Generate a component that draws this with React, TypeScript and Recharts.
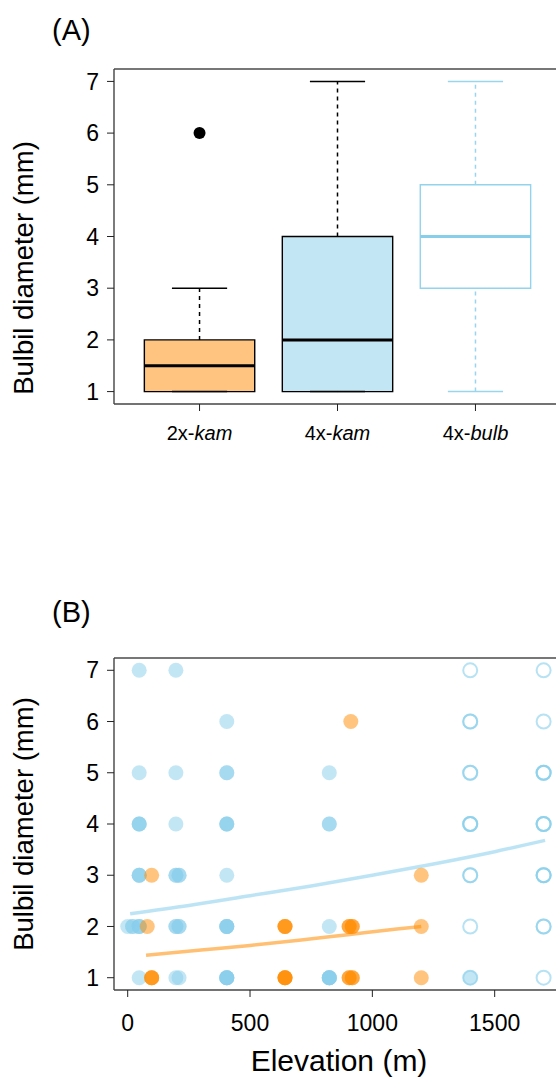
import React from 'react';
import { ComposedChart, XAxis, YAxis, Scatter, Line, ReferenceArea, ReferenceLine } from 'recharts';

const FONT = '"Liberation Sans", Arial, Helvetica, sans-serif';

// ---- Panel A: box summaries per cytotype ----
const groupPos = [1, 2, 3];
const groupPrefix = ['2x-', '4x-', '4x-'];
const groupItalic = ['kam', 'kam', 'bulb'];
const whiskerLow = [1, 1, 1];
const boxLow = [1, 1, 3];
const medians = [1.5, 2, 4];
const boxHigh = [2, 4, 5];
const whiskerHigh = [3, 7, 7];
const outlierPos = [1];
const outlierValue = [6];

const diameterTicks = [1, 2, 3, 4, 5, 6, 7];
const elevationTicks = [0, 500, 1000, 1500];

// ---- Panel B: points (elevation m, bulbil diameter mm) ----
const kam2Elevation = [
  912,
  98, 1200,
  80, 643, 643, 643, 905, 905, 918, 918, 1200,
  98, 98, 98, 643, 643, 643, 643, 905, 905, 918, 918, 1200,
];
const kam2Diameter = [
  6,
  3, 3,
  2, 2, 2, 2, 2, 2, 2, 2, 2,
  1, 1, 1, 1, 1, 1, 1, 1, 1, 1, 1, 1,
];

const kam4Elevation = [
  47, 197,
  405,
  47, 197, 405, 405, 824,
  47, 47, 47, 197, 405, 405, 405, 824, 824,
  47, 47, 47, 197, 197, 210, 210, 405,
  0, 20, 20, 47, 47, 47, 197, 197, 210, 210, 405, 405, 405, 405, 824,
  47, 197, 210, 405, 405, 405, 405, 405, 824, 824, 824, 824, 824, 1400,
];
const kam4Diameter = [
  7, 7,
  6,
  5, 5, 5, 5, 5,
  4, 4, 4, 4, 4, 4, 4, 4, 4,
  3, 3, 3, 3, 3, 3, 3, 3,
  2, 2, 2, 2, 2, 2, 2, 2, 2, 2, 2, 2, 2, 2, 2,
  1, 1, 1, 1, 1, 1, 1, 1, 1, 1, 1, 1, 1, 1,
];

const bulbElevation = [
  1400, 1700,
  1400, 1400, 1700,
  1400, 1400, 1700, 1700, 1700,
  1400, 1400, 1400, 1700, 1700, 1700,
  1400, 1400, 1700, 1700, 1700,
  1400, 1700, 1700,
  1400, 1700,
];
const bulbDiameter = [
  7, 7,
  6, 6, 6,
  5, 5, 5, 5, 5,
  4, 4, 4, 4, 4, 4,
  3, 3, 3, 3, 3,
  2, 2, 2,
  1, 1,
];

// fitted curves
const kam4FitElevation = [10, 250, 500, 750, 1000, 1250, 1500, 1706];
const kam4FitDiameter = [2.25, 2.41, 2.6, 2.79, 3.0, 3.22, 3.46, 3.68];
const kam2FitElevation = [75, 300, 500, 700, 900, 1100, 1200];
const kam2FitDiameter = [1.44, 1.54, 1.63, 1.73, 1.84, 1.95, 2.0];

const SKY = '#87CEEB';
const ORANGE = '#FF8C00';
const boxFill = ['#FFC580', '#C3E6F5', '#FFFFFF'];
const boxStroke = ['#000', '#000', '#94D3EC'];
const whiskerStroke = ['#000', '#000', '#9AD5EE'];
const medianStroke = ['#000', '#000', SKY];

const zip = (xs: number[], ys: number[]) => xs.map((x, i) => ({ x, y: ys[i] }));

const outliers = zip(outlierPos, outlierValue);
const kam2Points = zip(kam2Elevation, kam2Diameter);
const kam4Points = zip(kam4Elevation, kam4Diameter);
const bulbPoints = zip(bulbElevation, bulbDiameter);
const kam4Fit = zip(kam4FitElevation, kam4FitDiameter);
const kam2Fit = zip(kam2FitElevation, kam2FitDiameter);

const Y_DOMAIN: [number, number] = [0.76, 7.24];
const TICK_FONT = 23;

function GroupTick(props: any) {
  const { x, y, payload } = props;
  const i = groupPos.indexOf(payload.value);
  return (
    <text x={x} y={y} dy={27} textAnchor="middle" fontSize={20} fontFamily={FONT} fill="#000">
      <tspan>{groupPrefix[i]}</tspan>
      <tspan fontStyle="italic">{groupItalic[i]}</tspan>
    </text>
  );
}

const filledDot = (color: string) => (p: any) => (
  <circle cx={p.cx} cy={p.cy} r={7.5} fill={color} fillOpacity={0.5} />
);
const openDot = (p: any) => (
  <circle cx={p.cx} cy={p.cy} r={7} fill="none" stroke={SKY} strokeOpacity={0.6} strokeWidth={2} />
);

function BoxPanel() {
  const parts: React.ReactNode[] = [];
  groupPos.forEach((p, i) => {
    parts.push(
      <ReferenceLine key={`wu${i}`} segment={[{ x: p, y: boxHigh[i] }, { x: p, y: whiskerHigh[i] }]}
        stroke={whiskerStroke[i]} strokeDasharray="4 4" strokeWidth={1.5} />,
      <ReferenceLine key={`wl${i}`} segment={[{ x: p, y: whiskerLow[i] }, { x: p, y: boxLow[i] }]}
        stroke={whiskerStroke[i]} strokeDasharray="4 4" strokeWidth={1.5} />,
      <ReferenceArea key={`b${i}`} x1={p - 0.4} x2={p + 0.4} y1={boxLow[i]} y2={boxHigh[i]}
        fill={boxFill[i]} fillOpacity={1} stroke={boxStroke[i]} strokeWidth={1.4} />,
      <ReferenceLine key={`cu${i}`} segment={[{ x: p - 0.2, y: whiskerHigh[i] }, { x: p + 0.2, y: whiskerHigh[i] }]}
        stroke={whiskerStroke[i]} strokeWidth={1.5} />,
      <ReferenceLine key={`cl${i}`} segment={[{ x: p - 0.2, y: whiskerLow[i] }, { x: p + 0.2, y: whiskerLow[i] }]}
        stroke={whiskerStroke[i]} strokeWidth={1.5} />,
      <ReferenceLine key={`m${i}`} segment={[{ x: p - 0.4, y: medians[i] }, { x: p + 0.4, y: medians[i] }]}
        stroke={medianStroke[i]} strokeWidth={3} />,
    );
  });

  return (
    <ComposedChart width={600} height={470} margin={{ top: 69, right: 39, bottom: 26, left: 0 }}>
      <XAxis type="number" dataKey="x" domain={[0.38, 3.62]} allowDataOverflow ticks={groupPos}
        tick={<GroupTick />} tickSize={7} tickLine={{ stroke: '#222' }} height={40}
        axisLine={{ stroke: '#444', strokeWidth: 1.4 }} />
      <YAxis type="number" dataKey="y" domain={Y_DOMAIN} allowDataOverflow ticks={diameterTicks}
        width={114} tickSize={7} tickMargin={8} tickLine={{ stroke: '#222' }}
        tick={{ fontSize: TICK_FONT, fill: '#000', fontFamily: FONT }}
        axisLine={{ stroke: '#444', strokeWidth: 1.4 }} />
      <ReferenceLine y={Y_DOMAIN[1]} stroke="#777" strokeWidth={2} />
      {parts}
      <Scatter data={outliers} isAnimationActive={false}
        shape={(p: any) => <circle cx={p.cx} cy={p.cy} r={6} fill="#000" />} />
    </ComposedChart>
  );
}

function ScatterPanel() {
  return (
    <ComposedChart width={600} height={489} margin={{ top: 68, right: 40, bottom: 49, left: 0 }}>
      <XAxis type="number" dataKey="x" domain={[-56, 1767]} allowDataOverflow ticks={elevationTicks}
        tickSize={7} tickMargin={18} tickLine={{ stroke: '#222' }} height={40}
        tick={{ fontSize: TICK_FONT, fill: '#000', fontFamily: FONT }}
        axisLine={{ stroke: '#444', strokeWidth: 1.4 }} />
      <YAxis type="number" dataKey="y" domain={Y_DOMAIN} allowDataOverflow ticks={diameterTicks}
        width={114} tickSize={7} tickMargin={8} tickLine={{ stroke: '#222' }}
        tick={{ fontSize: TICK_FONT, fill: '#000', fontFamily: FONT }}
        axisLine={{ stroke: '#444', strokeWidth: 1.4 }} />
      <ReferenceLine y={Y_DOMAIN[1]} stroke="#777" strokeWidth={2} />
      <Scatter data={kam4Points} isAnimationActive={false} shape={filledDot(SKY)} />
      <Scatter data={kam2Points} isAnimationActive={false} shape={filledDot(ORANGE)} />
      <Scatter data={bulbPoints} isAnimationActive={false} shape={openDot} />
      <Line data={kam4Fit} dataKey="y" type="monotone" stroke={SKY} strokeOpacity={0.55}
        strokeWidth={3.5} dot={false} isAnimationActive={false} />
      <Line data={kam2Fit} dataKey="y" type="monotone" stroke={ORANGE} strokeOpacity={0.55}
        strokeWidth={3.5} dot={false} isAnimationActive={false} />
    </ComposedChart>
  );
}

export default function App() {
  const titleStyle = { fontFamily: FONT, fill: '#000' };
  return (
    <div style={{ position: 'fixed', left: 0, top: 0, width: 556, height: 1079, overflow: 'hidden', background: '#fff' }}>
      <div style={{ position: 'absolute', left: 0, top: 0 }}>
        <BoxPanel />
      </div>
      <div style={{ position: 'absolute', left: 0, top: 590 }}>
        <ScatterPanel />
      </div>
      <svg width={556} height={1079} style={{ position: 'absolute', left: 0, top: 0, pointerEvents: 'none' }}>
        <text x={52} y={40} fontSize={29} {...titleStyle}>(A)</text>
        <text x={52} y={622} fontSize={29} {...titleStyle}>(B)</text>
        <text transform="translate(33,268) rotate(-90)" textAnchor="middle" fontSize={27.5} {...titleStyle}>
          Bulbil diameter (mm)
        </text>
        <text transform="translate(33,824) rotate(-90)" textAnchor="middle" fontSize={27.5} {...titleStyle}>
          Bulbil diameter (mm)
        </text>
        <text x={339} y={1071} textAnchor="middle" fontSize={30} {...titleStyle}>Elevation (m)</text>
      </svg>
    </div>
  );
}
